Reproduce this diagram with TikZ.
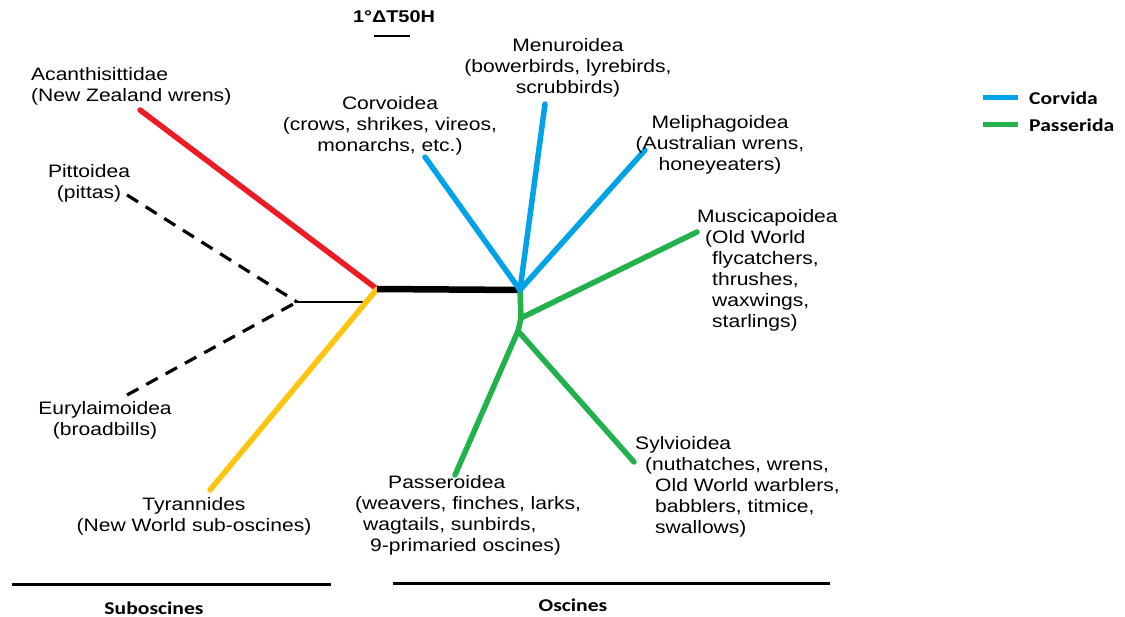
\documentclass[tikz,border=0pt]{standalone}
\usepackage{fontspec}
\setmainfont{Liberation Sans}[FakeStretch=1.17]
\newfontfamily\legfont{Carlito}[FakeStretch=1.2]
\definecolor{cred}{RGB}{237,28,36}
\definecolor{cyel}{RGB}{255,196,14}
\definecolor{cblue}{RGB}{0,162,232}
\definecolor{cgreen}{RGB}{34,177,76}
\tikzset{
  lbl/.style={inner sep=0pt, font=\fontsize{18}{21}\selectfont},
  lblc/.style={lbl, align=center},
  lbll/.style={lbl, align=left, anchor=west},
  branch/.style={line width=5.5pt, line cap=round},
  dashbr/.style={line width=3.2pt, dash pattern=on 13pt off 9pt},
  thinbr/.style={line width=2.2pt},
  legtext/.style={inner sep=0pt, anchor=west, font=\legfont\bfseries\fontsize{18}{20}\selectfont},
  grptext/.style={inner sep=0pt, font=\legfont\bfseries\fontsize{18}{20}\selectfont},
  grpline/.style={line width=3pt}
}
\begin{document}
\begin{tikzpicture}[x=1pt,y=-1pt]
\useasboundingbox (0,0) rectangle (1125,617);
% scale bar
\node[inner sep=0pt, font=\bfseries\fontsize{17}{20}\selectfont] (scale) at (394,17) {1°ΔT50H};
\coordinate (sb1) at (374,36); \coordinate (sb2) at (410,36);
\draw[line width=2pt] (sb1) -- (sb2);
% junctions
\coordinate (R) at (297,302);
\coordinate (J1) at (377,289);
\coordinate (J2) at (520,290);
\coordinate (J3) at (521,318);
\coordinate (J4) at (518,331);
\coordinate (Ry) at (365,302);
% tips
\coordinate (tAcan) at (140,110);
\coordinate (tPitt) at (127,195);
\coordinate (tEury) at (127,395);
\coordinate (tTyr) at (210,490);
\coordinate (tCorv) at (425,157);
\coordinate (tMenu) at (545,104);
\coordinate (tMeli) at (645,150);
\coordinate (tMusc) at (697,232);
\coordinate (tPass) at (455,475);
\coordinate (tSylv) at (634,462);
% branches
\draw[dashbr] (tPitt) -- (R);
\draw[dashbr] (tEury) -- (R);
\draw[thinbr] (R) -- (Ry);
\draw[branch, cred] (J1) -- (tAcan);
\draw[branch, cyel] (J1) -- (tTyr);
\draw[line width=6.5pt] (J1) -- (J2);
\draw[branch, cgreen] (J2) -- (J3) -- (J4);
\draw[branch, cgreen] (J3) -- (tMusc);
\draw[branch, cgreen] (J4) -- (tPass);
\draw[branch, cgreen] (J4) -- (tSylv);
\draw[branch, cblue] (J2) -- (tCorv);
\draw[branch, cblue] (J2) -- (tMenu);
\draw[branch, cblue] (J2) -- (tMeli);
% labels
\node[lbll] (lAcan) at (31,86) {Acanthisittidae\\(New Zealand wrens)};
\node[lblc] (lPitt) at (89,183) {Pittoidea\\(pittas)};
\node[lblc] (lEury) at (105,420) {Eurylaimoidea\\(broadbills)};
\node[lblc] (lTyr) at (194,516) {Tyrannides\\(New World sub-oscines)};
\node[lblc] (lCorv) at (390,126) {Corvoidea\\(crows, shrikes, vireos,\\monarchs, etc.)};
\node[lblc] (lMenu) at (568,68) {Menuroidea\\(bowerbirds, lyrebirds,\\scrubbirds)};
\node[lblc] (lMeli) at (720,145) {Meliphagoidea\\(Australian wrens,\\honeyeaters)};
\node[lbll] (lMusc) at (697,270) {Muscicapoidea\\\hspace*{8pt}(Old World\\\hspace*{15pt}flycatchers,\\\hspace*{15pt}thrushes,\\\hspace*{15pt}waxwings,\\\hspace*{15pt}starlings)};
\node[lbll] (lSylv) at (635,487) {Sylvioidea\\\hspace*{10pt}(nuthatches, wrens,\\\hspace*{20pt}Old World warblers,\\\hspace*{20pt}babblers, titmice,\\\hspace*{20pt}swallows)};
\node[lbll] (lPass) at (355,515) {\hspace*{33pt}Passeroidea\\(weavers, finches, larks,\\\hspace*{8pt}wagtails, sunbirds,\\\hspace*{15pt}9-primaried oscines)};
% legend
\coordinate (lg1a) at (983,98); \coordinate (lg1b) at (1018,98);
\coordinate (lg2a) at (983,125); \coordinate (lg2b) at (1018,125);
\draw[line width=5pt, cblue] (lg1a) -- (lg1b);
\draw[line width=5pt, cgreen] (lg2a) -- (lg2b);
\node[legtext] (legC) at (1029,98) {Corvida};
\node[legtext] (legP) at (1029,125) {Passerida};
% group bars
\coordinate (g1a) at (12,584); \coordinate (g1b) at (331,584);
\coordinate (g2a) at (393,583); \coordinate (g2b) at (830,583);
\draw[grpline] (g1a) -- (g1b);
\draw[grpline] (g2a) -- (g2b);
\node[grptext] (sub) at (154,608) {Suboscines};
\node[grptext] (osc) at (573,605) {Oscines};
\end{tikzpicture}
\end{document}
